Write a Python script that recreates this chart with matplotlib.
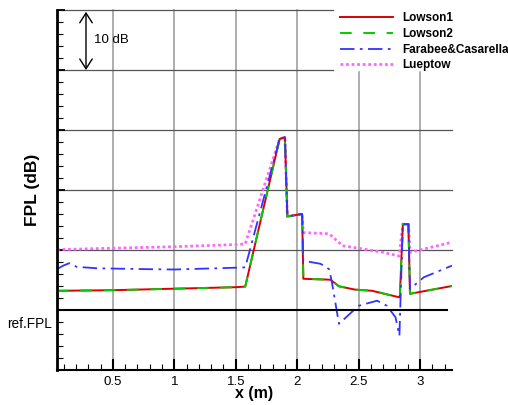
import matplotlib
matplotlib.use("Agg")
import matplotlib.pyplot as plt
from matplotlib.ticker import MultipleLocator, FixedLocator

plt.rcParams['font.family'] = ['Liberation Sans', 'DejaVu Sans']

# data (x in m, FPL in dB relative to ref.FPL)
lowson1_x = [0.045, 0.5, 1.0, 1.5, 1.577, 1.857, 1.90, 1.92, 2.04, 2.05, 2.27, 2.34,
             2.47, 2.61, 2.69, 2.835, 2.86, 2.905, 2.918, 3.26]
lowson1_y = [3.2, 3.3, 3.55, 3.8, 3.9, 28.5, 28.8, 15.6, 16.0, 5.2, 5.05, 3.95,
             3.4, 3.2, 2.8, 2.1, 14.3, 14.3, 2.7, 4.0]
lowson2_x = list(lowson1_x)
lowson2_y = list(lowson1_y)

farabee_x = [0.045, 0.096, 0.145, 0.205, 0.37, 0.8, 1.0, 1.5, 1.577, 1.857, 1.90, 1.92,
             2.04, 2.05, 2.19, 2.26, 2.28, 2.34, 2.5, 2.65, 2.73, 2.80, 2.832, 2.86,
             2.905, 2.918, 3.03, 3.26]
farabee_y = [6.8, 7.4, 7.8, 7.2, 6.95, 6.8, 6.75, 7.05, 7.1, 28.5, 28.8, 15.6,
             16.0, 8.2, 7.7, 6.8, 4.9, -2.3, 0.7, 1.55, 0.7, -1.2, -4.3, 14.3,
             14.3, 3.5, 5.45, 7.4]

lueptow_x = [0.045, 0.3, 1.0, 1.5, 1.577, 1.857, 1.90, 1.92, 2.04, 2.05, 2.26, 2.37,
             2.50, 2.70, 2.83, 2.86, 2.905, 2.918, 3.26]
lueptow_y = [10.05, 10.2, 10.55, 10.9, 11.0, 28.5, 28.8, 15.6, 16.0, 12.9, 12.7, 10.7,
             10.3, 9.6, 9.0, 14.3, 14.3, 9.6, 11.3]

x_ticks = [0.5, 1.0, 1.5, 2.0, 2.5, 3.0]
x_labels = ['0.5', '1', '1.5', '2', '2.5', '3']
y_grid = [10, 20, 30, 40, 50]

fig = plt.figure(figsize=(5.08, 4.05), dpi=100)
ax = fig.add_axes([57 / 508, 35 / 405, 395 / 508, 360 / 405])

xmin, xmax = 0.045, 3.26
ymin, ymax = -10, 50
ax.set_xlim(xmin, xmax)
ax.set_ylim(ymin, ymax)

# the legend block sits in the top right corner; grid stops at its edge
leg_left = 0.699   # axes fraction
leg_bottom = 0.828
for xv in x_ticks:
    frac = (xv - xmin) / (xmax - xmin)
    ax.axvline(xv, ymax=leg_bottom if frac > leg_left else 1,
               color='#a0a0a0', lw=1.2, zorder=1, clip_on=False)
for yv in y_grid:
    frac = (yv - ymin) / (ymax - ymin)
    ax.axhline(yv, xmax=leg_left if frac > leg_bottom else 1,
               color='#555555', lw=0.9, zorder=1, clip_on=False)

l4, = ax.plot(lueptow_x, lueptow_y, color='#ff66ff', lw=2, ls=(0, (1, 1)), label='Lueptow')
l1, = ax.plot(lowson1_x, lowson1_y, color='#dd0000', lw=1.4, label='Lowson1')
l2, = ax.plot(lowson2_x, lowson2_y, color='#00cc00', lw=1.4, ls=(0, (6, 6)), label='Lowson2')
l3, = ax.plot(farabee_x, farabee_y, color='#3333ff', lw=1.3, ls=(0, (8, 3, 1.5, 3)),
              label='Farabee&Casarella')

# reference level line
ax.axhline(0, xmin=0, xmax=0.987, color='black', lw=1.5, zorder=3)

ax.xaxis.set_major_locator(FixedLocator(x_ticks))
ax.set_xticklabels(x_labels)
ax.xaxis.set_minor_locator(MultipleLocator(0.1))
ax.yaxis.set_major_locator(MultipleLocator(10))
ax.yaxis.set_minor_locator(MultipleLocator(2))

ax.tick_params(axis='x', which='major', direction='in', length=8, width=1.5,
               labelsize=9.5, pad=4)
ax.tick_params(axis='x', which='minor', direction='in', length=4, width=0.8)
ax.tick_params(axis='y', which='major', direction='in', length=6, width=1.3, labelleft=False)
ax.tick_params(axis='y', which='minor', direction='in', length=4, width=0.8)

ax.spines['left'].set_linewidth(2)
ax.spines['bottom'].set_linewidth(1.5)
ax.spines['right'].set_visible(False)
ax.spines['top'].set_visible(False)

ax.set_xlabel('x (m)', fontsize=11.5, fontweight='bold')
ax.xaxis.set_label_coords(0.5, -0.044)
ax.set_ylabel('FPL (dB)', fontsize=12.5, fontweight='bold')
ax.yaxis.set_label_coords(-0.043, 0.5)

ax.text(0.004, -2.3, 'ref.FPL', fontsize=9.8, ha='right', va='center', clip_on=False)

# 10 dB scale arrow
ax.annotate('', xy=(0.281, 49.7), xytext=(0.281, 40.0),
            arrowprops=dict(arrowstyle='<->,head_length=0.7,head_width=0.45',
                            color='black', lw=1, shrinkA=0, shrinkB=0))
ax.text(0.346, 45, '10 dB', fontsize=9.5, ha='left', va='center')

fig.legend(handles=[l1, l2, l3, l4], loc='upper left',
           bbox_to_anchor=(333 / 508, 1 - 5 / 405),
           frameon=False, prop={'size': 8.5, 'weight': 'bold'},
           handlelength=4.5, handletextpad=0.8, labelspacing=0.32,
           borderpad=0.6, borderaxespad=0)

fig.savefig('out.png', dpi=100)
